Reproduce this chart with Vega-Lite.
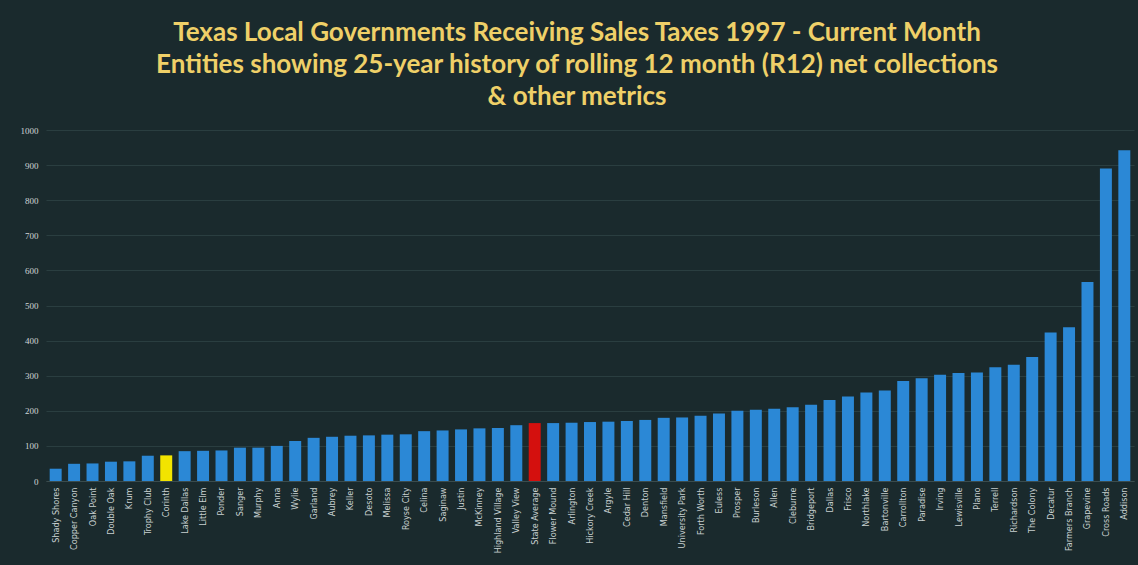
{
  "$schema": "https://vega.github.io/schema/vega-lite/v6.json",
  "autosize": "none",
  "width": 1088,
  "height": 351,
  "padding": {"left": 46, "top": 130, "right": 4, "bottom": 84},
  "background": "#1a2a2d",
  "title": {
    "text": ["Texas Local Governments Receiving Sales Taxes 1997 - Current Month", "Entities showing 25-year history of rolling 12 month (R12) net collections", "& other metrics"],
    "color": "#efd068",
    "font": "Lato",
    "fontSize": 26,
    "fontWeight": "bold",
    "lineHeight": 32,
    "anchor": "middle",
    "dx": -13,
    "offset": 16
  },
  "data": {
    "values": [
      {"city": "Shady Shores", "value": 35, "group": "city"},
      {"city": "Copper Canyon", "value": 49, "group": "city"},
      {"city": "Oak Point", "value": 50, "group": "city"},
      {"city": "Double Oak", "value": 55, "group": "city"},
      {"city": "Krum", "value": 56, "group": "city"},
      {"city": "Trophy Club", "value": 72, "group": "city"},
      {"city": "Corinth", "value": 73, "group": "Corinth"},
      {"city": "Lake Dallas", "value": 85, "group": "city"},
      {"city": "Little Elm", "value": 86, "group": "city"},
      {"city": "Ponder", "value": 87, "group": "city"},
      {"city": "Sanger", "value": 95, "group": "city"},
      {"city": "Murphy", "value": 95, "group": "city"},
      {"city": "Anna", "value": 100, "group": "city"},
      {"city": "Wylie", "value": 114, "group": "city"},
      {"city": "Garland", "value": 123, "group": "city"},
      {"city": "Aubrey", "value": 126, "group": "city"},
      {"city": "Keller", "value": 129, "group": "city"},
      {"city": "Desoto", "value": 130, "group": "city"},
      {"city": "Melissa", "value": 132, "group": "city"},
      {"city": "Royse City", "value": 133, "group": "city"},
      {"city": "Celina", "value": 142, "group": "city"},
      {"city": "Saginaw", "value": 144, "group": "city"},
      {"city": "Justin", "value": 147, "group": "city"},
      {"city": "McKinney", "value": 150, "group": "city"},
      {"city": "Highland Village", "value": 151, "group": "city"},
      {"city": "Valley View", "value": 159, "group": "city"},
      {"city": "State Average", "value": 165, "group": "State Average"},
      {"city": "Flower Mound", "value": 165, "group": "city"},
      {"city": "Arlington", "value": 166, "group": "city"},
      {"city": "Hickory Creek", "value": 168, "group": "city"},
      {"city": "Argyle", "value": 169, "group": "city"},
      {"city": "Cedar Hill", "value": 171, "group": "city"},
      {"city": "Denton", "value": 174, "group": "city"},
      {"city": "Mansfield", "value": 180, "group": "city"},
      {"city": "University Park", "value": 181, "group": "city"},
      {"city": "Forth Worth", "value": 186, "group": "city"},
      {"city": "Euless", "value": 192, "group": "city"},
      {"city": "Prosper", "value": 200, "group": "city"},
      {"city": "Burleson", "value": 203, "group": "city"},
      {"city": "Allen", "value": 206, "group": "city"},
      {"city": "Cleburne", "value": 210, "group": "city"},
      {"city": "Bridgeport", "value": 217, "group": "city"},
      {"city": "Dallas", "value": 231, "group": "city"},
      {"city": "Frisco", "value": 241, "group": "city"},
      {"city": "Northlake", "value": 252, "group": "city"},
      {"city": "Bartonville", "value": 258, "group": "city"},
      {"city": "Carrollton", "value": 285, "group": "city"},
      {"city": "Paradise", "value": 293, "group": "city"},
      {"city": "Irving", "value": 303, "group": "city"},
      {"city": "Lewisville", "value": 308, "group": "city"},
      {"city": "Plano", "value": 309, "group": "city"},
      {"city": "Terrell", "value": 324, "group": "city"},
      {"city": "Richardson", "value": 331, "group": "city"},
      {"city": "The Colony", "value": 353, "group": "city"},
      {"city": "Decatur", "value": 423, "group": "city"},
      {"city": "Farmers Branch", "value": 438, "group": "city"},
      {"city": "Grapevine", "value": 567, "group": "city"},
      {"city": "Cross Roads", "value": 890, "group": "city"},
      {"city": "Addison", "value": 942, "group": "city"}
    ]
  },
  "mark": {"type": "bar"},
  "encoding": {
    "x": {
      "field": "city",
      "type": "nominal",
      "sort": null,
      "scale": {"paddingInner": 0.35, "paddingOuter": 0.2},
      "axis": {
        "title": null,
        "labelAngle": -90,
        "labelColor": "#c8d0d0",
        "labelFont": "DejaVu Sans Condensed, Liberation Sans",
        "labelFontSize": 9,
        "labelPadding": 6,
        "ticks": false,
        "domainColor": "#3a4c4e",
        "labelOverlap": false
      }
    },
    "y": {
      "field": "value",
      "type": "quantitative",
      "scale": {"domain": [0, 1000], "nice": false},
      "axis": {
        "title": null,
        "format": "d",
        "values": [0, 100, 200, 300, 400, 500, 600, 700, 800, 900, 1000],
        "labelColor": "#d0d6d6",
        "labelFont": "Liberation Serif",
        "labelFontSize": 9,
        "labelPadding": 8,
        "ticks": false,
        "domain": false,
        "gridColor": "#2a3e40",
        "gridWidth": 1
      }
    },
    "color": {
      "field": "group",
      "type": "nominal",
      "scale": {"domain": ["city", "Corinth", "State Average"], "range": ["#2b88d6", "#f2e400", "#d4100e"]},
      "legend": null
    }
  },
  "config": {"view": {"stroke": null}}
}
